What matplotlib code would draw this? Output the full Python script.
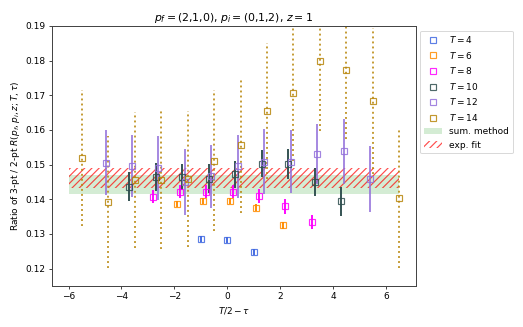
import numpy as np
import matplotlib
matplotlib.use('Agg')
import matplotlib.pyplot as plt
from matplotlib.patches import Patch
from matplotlib.lines import Line2D

# data: x = T/2 - tau (+ small offset per T)
T_vals = [4, 6, 8, 10, 12, 14]
colors = ['royalblue', 'darkorange', 'magenta', 'darkslategray', 'mediumpurple', 'darkgoldenrod']

x4 = [-1.0, 0.0, 1.0]
y4 = [0.1285, 0.1282, 0.1248]
e4 = [0.0008, 0.0008, 0.0008]

x6 = [-1.9, -0.9, 0.1, 1.1, 2.1]
y6 = [0.1386, 0.1396, 0.1396, 0.1376, 0.1325]
e6 = [0.0009, 0.0009, 0.0009, 0.0010, 0.0010]

x8 = [-2.8, -1.8, -0.8, 0.2, 1.2, 2.2, 3.2]
y8 = [0.1408, 0.1422, 0.1422, 0.1422, 0.1410, 0.1380, 0.1334]
e8 = [0.0019, 0.0019, 0.0019, 0.0019, 0.0020, 0.0021, 0.0021]

x10 = [-3.7, -2.7, -1.7, -0.7, 0.3, 1.3, 2.3, 3.3, 4.3]
y10 = [0.1437, 0.1464, 0.1464, 0.1459, 0.1472, 0.1503, 0.1502, 0.1450, 0.1394]
e10 = [0.0042, 0.0040, 0.0038, 0.0042, 0.0040, 0.0040, 0.0042, 0.0041, 0.0043]

x12 = [-4.6, -3.6, -2.6, -1.6, -0.6, 0.4, 1.4, 2.4, 3.4, 4.4, 5.4]
y12 = [0.1506, 0.1497, 0.1490, 0.1450, 0.1466, 0.1495, 0.1509, 0.1509, 0.1530, 0.1539, 0.1458]
e12 = [0.0093, 0.0090, 0.0092, 0.0095, 0.0092, 0.0092, 0.0093, 0.0091, 0.0087, 0.0094, 0.0095]

x14 = [-5.5, -4.5, -3.5, -2.5, -1.5, -0.5, 0.5, 1.5, 2.5, 3.5, 4.5, 5.5, 6.5]
y14 = [0.1519, 0.1392, 0.1456, 0.1456, 0.1459, 0.1512, 0.1556, 0.1655, 0.1706, 0.1799, 0.1774, 0.1684, 0.1404]
e14 = [0.0196, 0.0190, 0.0195, 0.0200, 0.0196, 0.0202, 0.0195, 0.0197, 0.0196, 0.0202, 0.0200, 0.0210, 0.0202]

xs = [x4, x6, x8, x10, x12, x14]
ys = [y4, y6, y8, y10, y12, y14]
es = [e4, e6, e8, e10, e12, e14]

# bands
band_x = [-6.0, 6.5]
sum_lo, sum_hi = 0.1415, 0.1471
fit_lo, fit_hi = 0.1434, 0.1490

dpi = 65
plt.rcParams['hatch.linewidth'] = 1.3
fig = plt.figure(figsize=(523 / dpi, 327 / dpi), dpi=dpi)
ax = fig.add_axes([0.0994, 0.1254, 0.6956, 0.7951])

ax.fill_between(band_x, sum_lo, sum_hi, color='tab:green', alpha=0.2, linewidth=0, zorder=1)
ax.fill_between(band_x, fit_lo, fit_hi, facecolor='none', edgecolor='red', alpha=0.7,
                hatch='///', linewidth=0, zorder=1)

for i in range(len(T_vals)):
    ls = ':' if T_vals[i] == 14 else '-'
    a = 0.85 if T_vals[i] in (12, 14) else 1.0
    eb = ax.errorbar(xs[i], ys[i], yerr=es[i], fmt='none', ecolor=colors[i],
                     elinewidth=2.1, capsize=0, alpha=a, zorder=2)
    eb[2][0].set_linestyle(ls)
    ax.plot(xs[i], ys[i], 's', ms=6.5, mfc='none', mec=colors[i], mew=1.3,
            alpha=0.85, zorder=3)

ax.set_ylim(0.115, 0.19)
ax.set_xticks([-6, -4, -2, 0, 2, 4, 6])
ax.set_yticks(np.arange(0.12, 0.1901, 0.01))
for s in ax.spines.values():
    s.set_linewidth(1.1)
    s.set_color('#444444')

ax.set_title(r'$p_f = (2{,}1{,}0)$, $p_i = (0{,}1{,}2)$, $z = 1$')
ax.set_xlabel(r'$T/2 - \tau$')
ax.set_ylabel(r'Ratio of 3-pt / 2-pt $R(p_f, p_i, z; T, \tau)$')

handles = []
for i in range(len(T_vals)):
    handles.append(Line2D([], [], marker='s', ls='none', ms=6.5, mfc='none',
                          mec=colors[i], mew=1.3, alpha=0.85,
                          label=r'$T = %d$' % T_vals[i]))
handles.append(Patch(facecolor='tab:green', alpha=0.2, label='sum. method'))
handles.append(Patch(facecolor='none', edgecolor='red', hatch='///', alpha=0.7,
                     linewidth=0, label='exp. fit'))
ax.legend(handles=handles, loc='upper left', bbox_to_anchor=(1.0, 1.0))

fig.savefig('out.png', dpi=dpi)
